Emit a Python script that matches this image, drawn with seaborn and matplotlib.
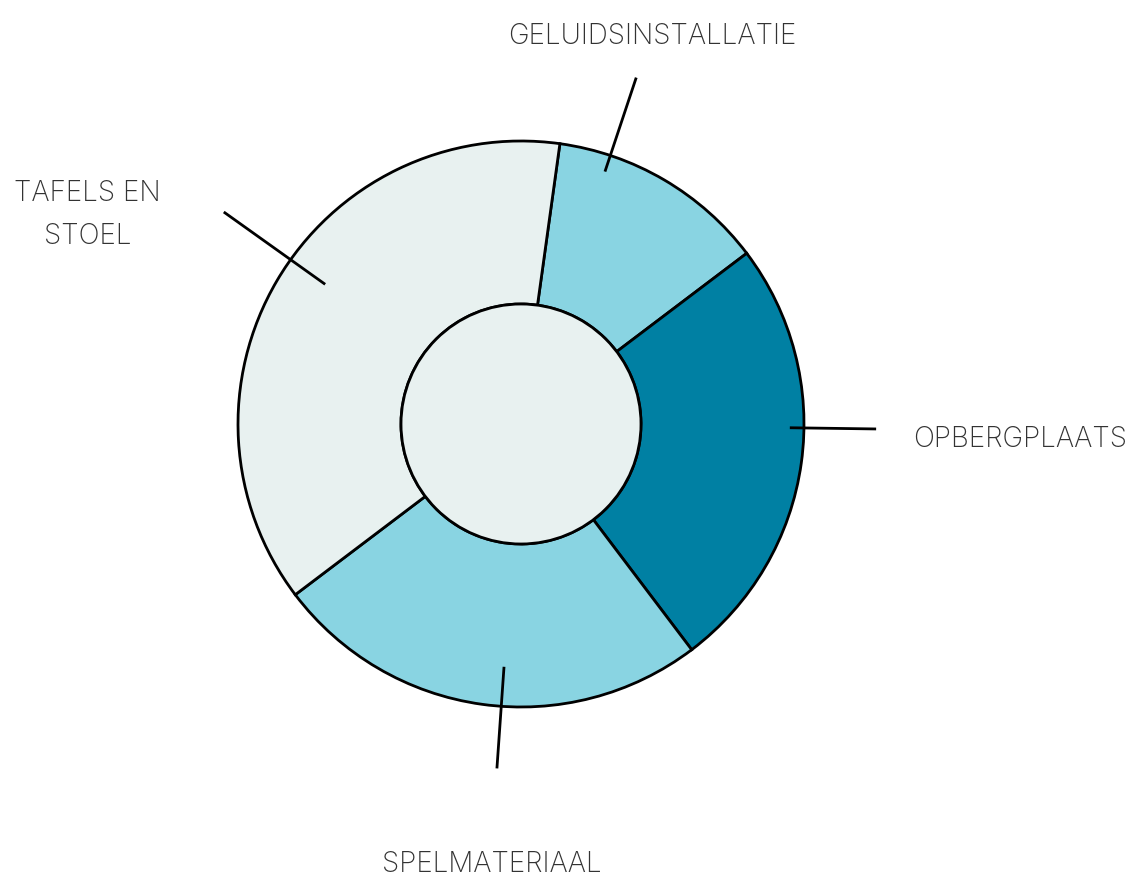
import numpy as np
import matplotlib
matplotlib.use("Agg")
import matplotlib.pyplot as plt
import seaborn as sns

# ---- data ----
categories = ["GELUIDSINSTALLATIE", "OPBERGPLAATS", "SPELMATERIAAL", "TAFELS EN\nSTOEL"]
values = [12.5, 25.0, 25.0, 37.5]
colors = ["#89d4e2", "#0080a3", "#89d4e2", "#e8f1f0"]

# ---- layout (leader angles clockwise from top, leader radii, text positions) ----
label_angles = [18.4, 90.8, 184.0, 305.5]
leader_r0 = [0.94, 0.95, 0.86, 0.85]
leader_r1 = [1.29, 1.255, 1.22, 1.29]
label_text_xy = [(0.463, 1.370), (1.387, -0.054), (-0.102, -1.555), (-1.532, 0.738)]
label_ha = ["center", "left", "center", "center"]

sns.set_theme(style="white")
plt.rcParams["font.family"] = ["Inter", "Roboto", "DejaVu Sans"]

W, H = 1132, 876
fig = plt.figure(figsize=(W / 100, H / 100), dpi=100)
ax = fig.add_axes([0, 0, 1, 1])
R = 283.0
cx, cy = 521, 424

start = 90 - 7.9
ax.pie(values, colors=colors, startangle=start, counterclock=False, radius=1.0,
       wedgeprops=dict(width=1 - 120 / R, edgecolor="black", linewidth=2),
       center=(0, 0))
inner = plt.Circle((0, 0), 120 / R, facecolor="#e8f1f0", edgecolor="black", linewidth=2, zorder=5)
ax.add_patch(inner)

for cat, ang, r0, r1, (tx, ty), ha in zip(categories, label_angles, leader_r0, leader_r1,
                                          label_text_xy, label_ha):
    a = np.deg2rad(ang)
    dx, dy = np.sin(a), np.cos(a)
    ax.plot([r0 * dx, r1 * dx], [r0 * dy, r1 * dy], color="black", lw=2, zorder=6,
            solid_capstyle="butt")
    ax.text(tx, ty, cat, ha=ha, va="center", fontsize=20, fontweight="light",
            color="#333333", linespacing=1.78)

ax.set_xlim(-cx / R, (W - cx) / R)
ax.set_ylim(-(H - cy) / R, cy / R)
ax.set_aspect("equal")
ax.axis("off")

fig.savefig("out.png", dpi=100)
